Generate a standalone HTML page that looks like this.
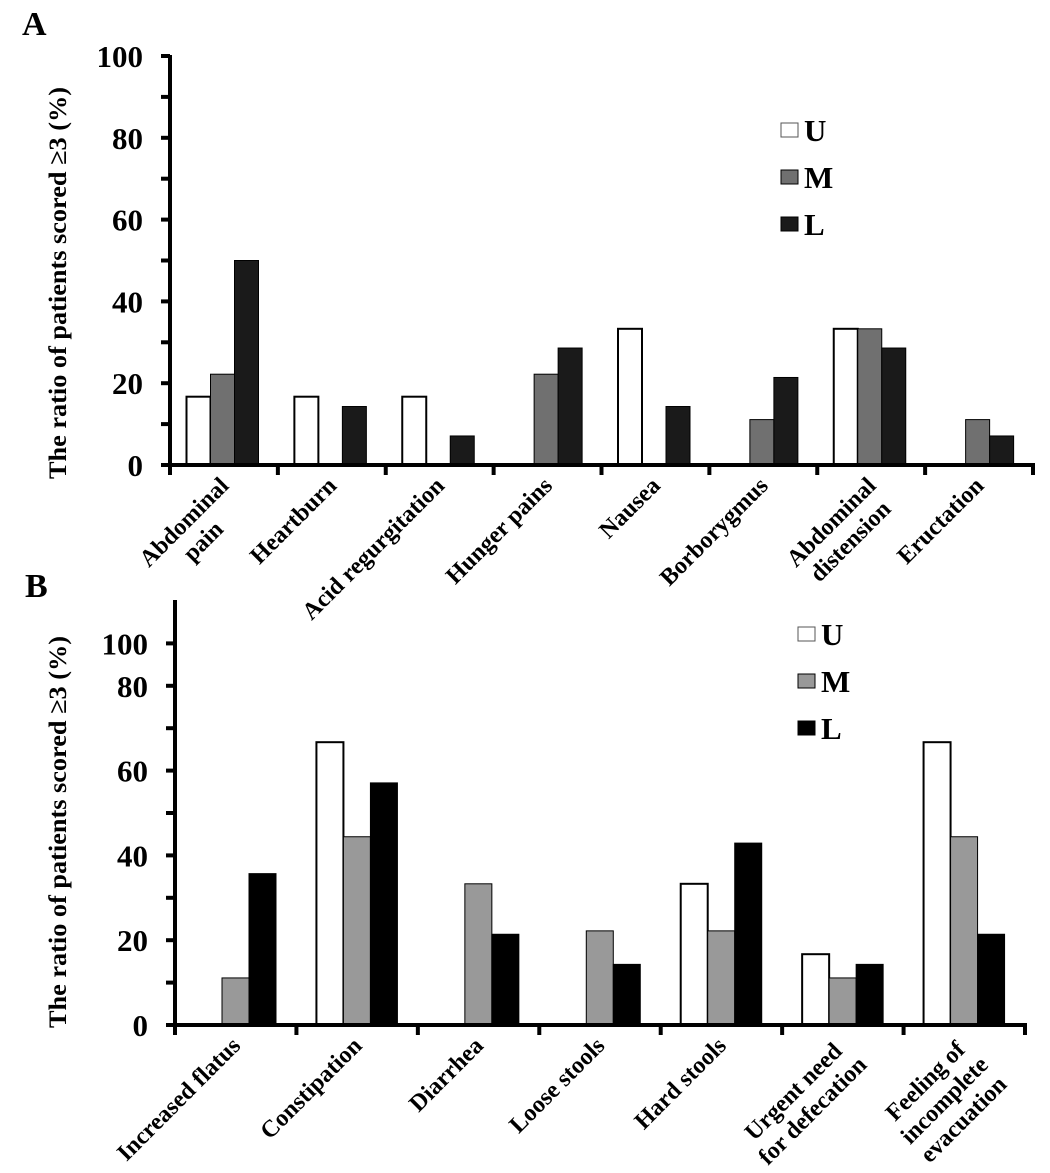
<!DOCTYPE html>
<html><head><meta charset="utf-8"><style>
html,body{margin:0;padding:0;background:#fff;}
svg, svg text{font-family:"Liberation Serif","Times New Roman",Times,serif;font-weight:bold;}
</style></head><body>
<svg id="chart" width="1050" height="1168" viewBox="0 0 1050 1168" xmlns="http://www.w3.org/2000/svg">
<rect width="1050" height="1168" fill="#fff"/>
<text x="22" y="35" font-size="34" font-family="Liberation Serif, serif">A</text>
<text x="25" y="597" font-size="34" font-family="Liberation Serif, serif">B</text>
<g id="pa"></g>
<g id="pb"></g>
</svg>
<script>
const seriesNames = ["U","M","L"];
const aCategories = [["Abdominal","pain"],["Heartburn"],["Acid regurgitation"],["Hunger pains"],["Nausea"],["Borborygmus"],["Abdominal","distension"],["Eructation"]];
const aU = [16.7,16.7,16.7,0,33.3,0,33.3,0];
const aM = [22.2,0,0,22.2,0,11.1,33.3,11.1];
const aL = [50,14.3,7.1,28.6,14.3,21.4,28.6,7.1];
const aTickVals = [0,20,40,60,80,100];
const aTickText = ["0","20","40","60","80","100"];
const bCategories = [["Increased flatus"],["Constipation"],["Diarrhea"],["Loose stools"],["Hard stools"],["Urgent need","for defecation"],["Feeling of","incomplete","evacuation"]];
const bU = [0,66.7,0,0,33.3,16.7,66.7];
const bM = [11.1,44.4,33.3,22.2,22.2,11.1,44.4];
const bL = [35.7,57.1,21.4,14.3,42.9,14.3,21.4];
const bTickVals = [0,20,40,60,80,90];
const bTickText = ["0","20","40","60","80","100"];

const NS="http://www.w3.org/2000/svg";
const FF="Liberation Serif, Times New Roman, serif";
function mk(parent,tag,attrs){const e=document.createElementNS(NS,tag);for(const k in attrs)e.setAttribute(k,attrs[k]);if(tag==='text'){e.setAttribute('font-family',FF);e.setAttribute('font-weight','bold');}parent.appendChild(e);return e;}

function drawPanel(g,cfg){
  const y=v=>cfg.y0-v*cfg.ppu;
  const n=cfg.cats.length, gw=(cfg.x1-cfg.x0)/n;
  const series=[cfg.U,cfg.M,cfg.L];
  for(let i=0;i<n;i++){
    for(let s=0;s<3;s++){
      const v=series[s][i]; if(!v) continue;
      const r=mk(g,'rect',{x:cfg.x0+i*gw+cfg.off+s*cfg.bw,y:y(v),width:cfg.bw,height:v*cfg.ppu,fill:cfg.colors[s],stroke:'#000','stroke-width':s===0?2:1});
      
      
    }
  }
  const ya=mk(g,'line',{x1:cfg.x0,y1:cfg.yTop,x2:cfg.x0,y2:cfg.y0+2,stroke:'#000','stroke-width':4});
  
  
  for(let v=0;v<=cfg.maxTick;v+=10){
    mk(g,'line',{x1:cfg.x0-9,y1:y(v),x2:cfg.x0,y2:y(v),stroke:'#000','stroke-width':4});
  }
  for(let k=0;k<cfg.tickVals.length;k++){
    const t=mk(g,'text',{x:cfg.labelX,y:y(cfg.tickVals[k])+11,'text-anchor':'end','font-size':31});
    t.textContent=cfg.tickText[k];
    
    
  }
  const xa=mk(g,'line',{x1:cfg.x0-9,y1:cfg.y0,x2:cfg.x1+2,y2:cfg.y0,stroke:'#000','stroke-width':4});
  
  
  for(let i=0;i<=n;i++){
    mk(g,'line',{x1:cfg.x0+i*gw,y1:cfg.y0,x2:cfg.x0+i*gw,y2:cfg.y0+10,stroke:'#000','stroke-width':4});
  }
  for(let i=0;i<n;i++){
    const cx=cfg.x0+i*gw+gw/2+6, cy=cfg.y0+22;
    const lg=mk(g,'g',{transform:`translate(${cx},${cy}) rotate(-45)`});
    
    
    const lines=cfg.cats[i]; const ts=[]; let maxW=0;
    lines.forEach((ln,j)=>{const t=mk(lg,'text',{x:0,y:j*27,'text-anchor':'middle','font-size':24});t.textContent=ln;ts.push(t);maxW=Math.max(maxW,t.getComputedTextLength());});
    ts.forEach(t=>t.setAttribute('x',-maxW/2));
  }
  const yt=mk(g,'text',{transform:`translate(${cfg.titleX},${cfg.titleCY}) rotate(-90)`,'text-anchor':'middle','font-size':25,textLength:392,lengthAdjust:'spacingAndGlyphs'});
  yt.textContent='The ratio of patients scored \u22653 (%)';
  
  
  for(let s=0;s<3;s++){
    const cy=cfg.legY+s*cfg.legGap;
    const sq=mk(g,'rect',{x:cfg.legX,y:cy-7,width:17,height:14,fill:cfg.colors[s],stroke:s===0?'#555':'#000','stroke-width':1});
    
    
    const t=mk(g,'text',{x:cfg.legX+23,y:cy+11,'font-size':31});
    t.textContent=seriesNames[s];
    
    
  }
}
drawPanel(document.getElementById('pa'),{id:'a',cats:aCategories,U:aU,M:aM,L:aL,x0:170,x1:1033,y0:465,ppu:4.09,yTop:55,maxTick:100,
  off:16.5,bw:24,colors:['#fff','#707070','#1a1a1a'],tickVals:aTickVals,tickText:aTickText,labelX:143,titleX:66,titleCY:283,legX:781,legY:130,legGap:47});
drawPanel(document.getElementById('pb'),{id:'b',cats:bCategories,U:bU,M:bM,L:bL,x0:175,x1:1025,y0:1025,ppu:4.24,yTop:600,maxTick:90,
  off:20,bw:27,colors:['#fff','#999','#000'],tickVals:bTickVals,tickText:bTickText,labelX:148,titleX:66,titleCY:832,legX:798,legY:634,legGap:47});
</script>
</body></html>
